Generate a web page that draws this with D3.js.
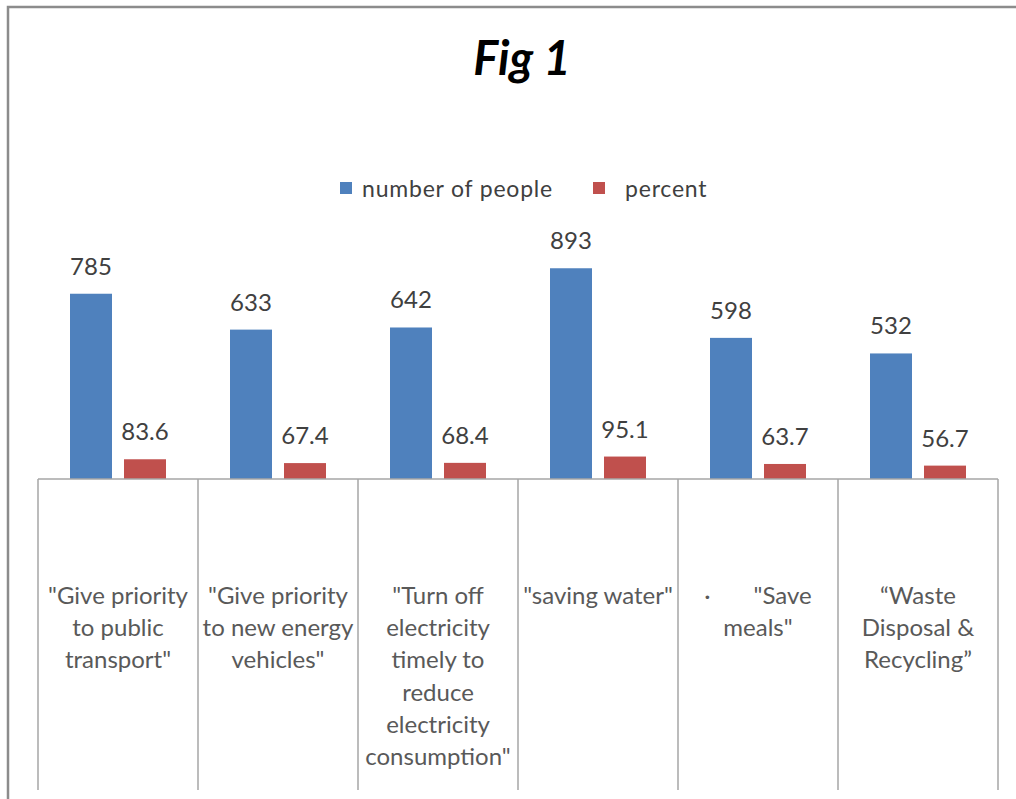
<!DOCTYPE html>
<html>
<head>
<meta charset="utf-8">
<script src="https://cdn.jsdelivr.net/npm/d3@7"></script>
<style>
  body { margin: 0; background: #fff; }
  svg text { font-family: Lato, "Noto Sans", sans-serif; }
</style>
</head>
<body>
<div id="chart"></div>
<script>
// chart data
var categories = [
    '"Give priority\nto public\ntransport"',
    '"Give priority\nto new energy\nvehicles"',
    '"Turn off\nelectricity\ntimely to\nreduce\nelectricity\nconsumption"',
    '"saving water"',
    '\u00b7       "Save\nmeals"',
    '\u201cWaste\nDisposal &\nRecycling\u201d'
];
var series = ["number of people", "percent"];
var people = [785, 633, 642, 893, 598, 532];
var percent = [83.6, 67.4, 68.4, 95.1, 63.7, 56.7];
var colors = ["#4f81bd", "#c0504d"];

var width = 1016, height = 799;

var svg = d3.select("#chart").append("svg")
    .attr("width", width)
    .attr("height", height);

// outer frame (cropped on right and bottom)
svg.append("path")
    .attr("d", "M8," + height + "V7H" + width)
    .attr("fill", "none")
    .attr("stroke", "#8c8c8c")
    .attr("stroke-width", 2.5);

svg.append("text")
    .attr("x", 522)
    .attr("y", 75)
    .attr("text-anchor", "middle")
    .attr("font-size", 47)
    .attr("font-weight", "bold")
    .attr("font-style", "italic")
    .attr("fill", "#000")
    .text("Fig 1");

var x0 = d3.scaleBand().domain(d3.range(categories.length)).range([38, 998]);
var x1 = d3.scaleBand().domain(series).range([0, x0.bandwidth()])
    .paddingInner(12 / 54).paddingOuter(32 / 54);
var y = d3.scaleLinear().domain([0, 1000]).range([479, 243]);

var rows = categories.map(function (c, i) {
    return { cat: i, values: [people[i], percent[i]] };
});

var group = svg.append("g").selectAll("g").data(rows)
    .enter().append("g")
    .attr("transform", function (d) { return "translate(" + x0(d.cat) + ",0)"; });

group.selectAll("rect")
    .data(function (d) { return d.values.map(function (v, j) { return { s: series[j], v: v, j: j }; }); })
    .enter().append("rect")
    .attr("x", function (d) { return x1(d.s); })
    .attr("y", function (d) { return y(d.v); })
    .attr("width", x1.bandwidth())
    .attr("height", function (d) { return y(0) - y(d.v); })
    .attr("fill", function (d) { return colors[d.j]; });

group.selectAll(".val")
    .data(function (d) { return d.values.map(function (v, j) { return { s: series[j], v: v, j: j }; }); })
    .enter().append("text")
    .attr("class", "val")
    .attr("x", function (d) { return x1(d.s) + x1.bandwidth() / 2; })
    .attr("y", function (d) { return y(d.v) - 19; })
    .attr("text-anchor", "middle")
    .attr("font-size", 24)
    .attr("fill", "#404040")
    .text(function (d) { return d.v; });

// category table below the axis
var grid = svg.append("g").attr("stroke", "#a6a6a6").attr("stroke-width", 1.5);
grid.append("line")
    .attr("x1", x0.range()[0]).attr("x2", x0.range()[1])
    .attr("y1", y(0)).attr("y2", y(0));
grid.selectAll(".sep")
    .data(d3.range(categories.length + 1))
    .enter().append("line")
    .attr("x1", function (i) { return x0.range()[0] + i * x0.step(); })
    .attr("x2", function (i) { return x0.range()[0] + i * x0.step(); })
    .attr("y1", y(0)).attr("y2", 790);

var catLabel = svg.append("g").selectAll("text").data(categories)
    .enter().append("text")
    .attr("text-anchor", "middle")
    .attr("font-size", 24)
    .attr("fill", "#595959")
    .style("white-space", "pre")
    .attr("transform", function (d, i) { return "translate(" + (x0(i) + x0.bandwidth() / 2) + ",604)"; });

catLabel.selectAll("tspan")
    .data(function (d) { return d.split("\n"); })
    .enter().append("tspan")
    .attr("x", 0)
    .attr("y", function (d, i) { return i * 32.2; })
    .text(function (d) { return d; });

// legend
var legend = svg.append("g").selectAll("g").data(series)
    .enter().append("g")
    .attr("transform", function (d, i) { return "translate(" + [340, 593][i] + ",182)"; });
legend.append("rect")
    .attr("width", 12).attr("height", 12)
    .attr("fill", function (d, i) { return colors[i]; });
legend.append("text")
    .attr("x", function (d, i) { return [22, 32][i]; })
    .attr("y", 15)
    .attr("font-size", 23)
    .attr("letter-spacing", 0.8)
    .attr("fill", "#404040")
    .text(function (d) { return d; });
</script>
</body>
</html>
